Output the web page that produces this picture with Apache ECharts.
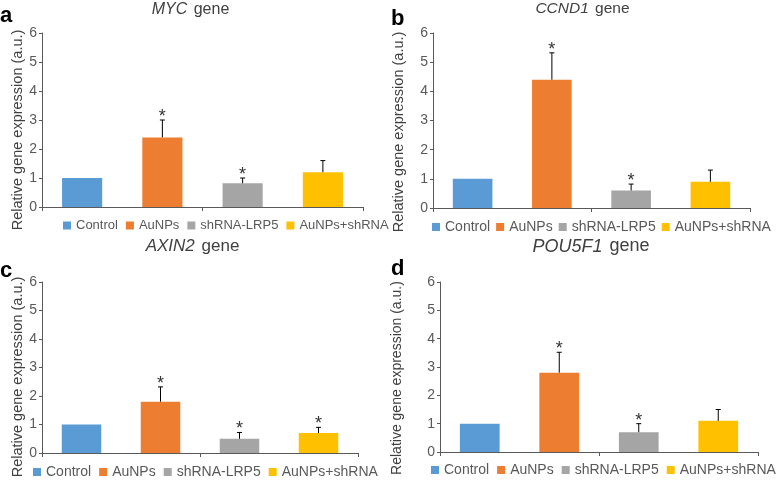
<!DOCTYPE html>
<html>
<head>
<meta charset="utf-8">
<script src="https://cdn.jsdelivr.net/npm/echarts@6/dist/echarts.min.js"></script>
<style>html,body{margin:0;padding:0;background:#fff;}#c{width:778px;height:487px;}</style>
</head>
<body>
<div id="c"></div>
<script>
const categories = ['Control', 'AuNPs', 'shRNA-LRP5', 'AuNPs+shRNA'];
const yTicks = [0, 1, 2, 3, 4, 5, 6];

const mycValues = [1, 2.4, 0.82, 1.2];
const mycErrors = [0, 0.6, 0.18, 0.4];
const mycStars = [0, 1, 1, 0];

const ccnd1Values = [1, 4.4, 0.6, 0.9];
const ccnd1Errors = [0, 0.92, 0.22, 0.4];
const ccnd1Stars = [0, 1, 1, 0];

const axin2Values = [1, 1.8, 0.5, 0.7];
const axin2Errors = [0, 0.52, 0.22, 0.2];
const axin2Stars = [0, 1, 1, 1];

const pou5f1Values = [1, 2.8, 0.7, 1.1];
const pou5f1Errors = [0, 0.72, 0.3, 0.4];
const pou5f1Stars = [0, 1, 1, 0];

const colors = ['#5B9BD5', '#ED7D31', '#A5A5A5', '#FFC000'];
const FONT = '"Liberation Sans", Arial, sans-serif';

const panels = [
  { letter: 'a', gene: 'MYC', values: mycValues, errors: mycErrors, stars: mycStars,
    grid: { left: 42, top: 33, width: 321, height: 174 },
    title: [190.5, 9.5], titleSize: 16, letterPos: [0, 16], yName: [18, 130], yNameSize: 14.5,
    legend: { left: 63, top: 219, fontSize: 13, gap: 8 } },
  { letter: 'b', gene: 'CCND1', values: ccnd1Values, errors: ccnd1Errors, stars: ccnd1Stars,
    grid: { left: 433, top: 33, width: 317, height: 175 },
    title: [582.5, 9], titleSize: 15.5, letterPos: [391, 19], yName: [399, 132], yNameSize: 14.5,
    legend: { left: 432, top: 220, fontSize: 14, gap: 6 } },
  { letter: 'c', gene: 'AXIN2', values: axin2Values, errors: axin2Errors, stars: axin2Stars,
    grid: { left: 42, top: 282, width: 316, height: 171 },
    title: [192.5, 246.5], titleSize: 17, letterPos: [0, 271], yName: [18, 377], yNameSize: 14.5,
    legend: { left: 33, top: 465, fontSize: 14, gap: 8 } },
  { letter: 'd', gene: 'POU5F1', values: pou5f1Values, errors: pou5f1Errors, stars: pou5f1Stars,
    grid: { left: 440, top: 282, width: 318, height: 170 },
    title: [591, 246.5], titleSize: 18, letterPos: [391, 269], yName: [397, 378], yNameSize: 14,
    legend: { left: 431, top: 463, fontSize: 14, gap: 8 } }
];

const grids = [], xAxes = [], yAxes = [], series = [], legends = [], graphics = [];
const axisColor = '#595959';

function renderErr(params, api) {
  const x = api.value(0), v = api.value(1), e = api.value(2), s = api.value(3);
  const base = api.coord([x, v]);
  const top = api.coord([x, v + e]);
  const children = [];
  if (e > 0) {
    children.push({ type: 'line', shape: { x1: base[0], y1: base[1], x2: top[0], y2: top[1] },
      style: { stroke: '#000', lineWidth: 1 } });
    children.push({ type: 'line', shape: { x1: top[0] - 2.5, y1: top[1], x2: top[0] + 2.5, y2: top[1] },
      style: { stroke: '#000', lineWidth: 1 } });
  }
  if (s) {
    children.push({ type: 'text', x: top[0], y: top[1] + 6,
      style: { text: '*', fill: '#333', font: '18px ' + FONT,
        textAlign: 'center', textVerticalAlign: 'bottom' } });
  }
  return { type: 'group', children };
}

panels.forEach((p, i) => {
  grids.push(Object.assign({ containLabel: false }, p.grid));
  xAxes.push({
    type: 'category', gridIndex: i, data: categories,
    axisLine: { lineStyle: { color: axisColor, width: 1 } },
    axisTick: { show: true, length: 4, alignWithLabel: false, lineStyle: { color: axisColor } },
    axisLabel: { show: false }
  });
  yAxes.push({
    type: 'value', gridIndex: i, min: yTicks[0], max: yTicks[yTicks.length - 1], interval: 1,
    axisLine: { show: true, lineStyle: { color: axisColor, width: 1 } },
    axisTick: { show: true, length: 3, lineStyle: { color: axisColor } },
    splitLine: { show: false },
    axisLabel: { color: axisColor, fontSize: 14, margin: 5, fontFamily: FONT }
  });
  categories.forEach((c, k) => {
    series.push({
      type: 'bar', name: c, xAxisIndex: i, yAxisIndex: i, stack: 's' + i,
      barWidth: '50%', itemStyle: { color: colors[k] },
      data: p.values.map((v, j) => (j === k ? v : '-')),
      animation: false, silent: true
    });
  });
  series.push({
    type: 'custom', xAxisIndex: i, yAxisIndex: i, renderItem: renderErr,
    data: p.values.map((v, j) => [j, v, p.errors[j], p.stars[j]]),
    animation: false, silent: true, z: 5
  });
  legends.push({
    left: p.legend.left, top: p.legend.top, orient: 'horizontal', padding: 0,
    data: categories, icon: 'rect', itemWidth: 8, itemHeight: 8, itemGap: p.legend.gap,
    selectedMode: false,
    textStyle: { color: axisColor, fontSize: p.legend.fontSize, fontFamily: FONT }
  });
  graphics.push({
    type: 'text', x: p.title[0], y: p.title[1],
    style: {
      text: '{i|' + p.gene + '} gene', fill: '#404040',
      font: p.titleSize + 'px ' + FONT, textAlign: 'center', textVerticalAlign: 'middle',
      rich: { i: { fontStyle: 'italic', fontSize: p.titleSize, fontFamily: FONT, fill: '#404040', color: '#404040', padding: [0, 2, 0, 0] } }
    }
  });
  graphics.push({
    type: 'text', x: p.letterPos[0], y: p.letterPos[1],
    style: { text: p.letter, fill: '#000', font: 'bold 22px ' + FONT, textVerticalAlign: 'middle' }
  });
  graphics.push({
    type: 'text', x: p.yName[0], y: p.yName[1], rotation: Math.PI / 2,
    style: { text: 'Relative gene expression (a.u.)', fill: '#404040',
      font: p.yNameSize + 'px ' + FONT, textAlign: 'center', textVerticalAlign: 'middle' }
  });
});

const chart = echarts.init(document.getElementById('c'), null, { renderer: 'canvas' });
chart.setOption({
  backgroundColor: '#fff',
  animation: false,
  grid: grids,
  xAxis: xAxes,
  yAxis: yAxes,
  legend: legends,
  series: series,
  graphic: graphics
});
</script>
</body>
</html>
